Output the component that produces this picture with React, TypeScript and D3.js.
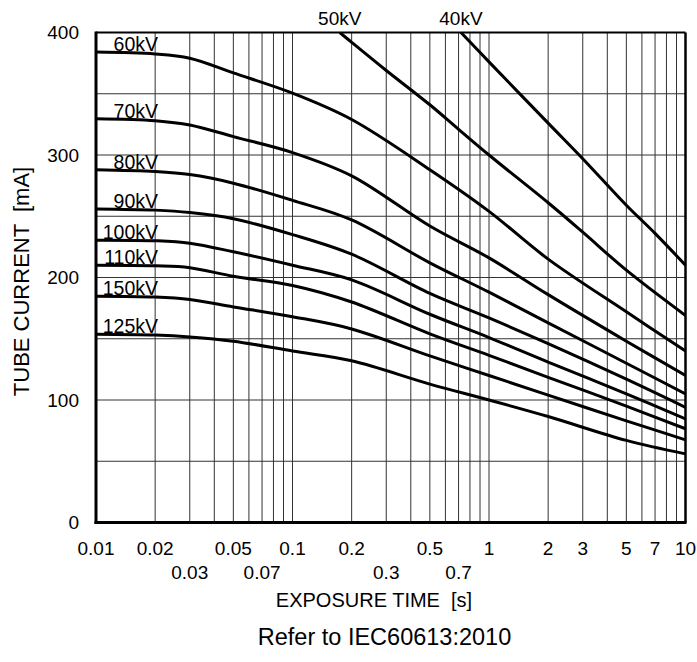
import React from "react";
import * as d3 from "d3";

const W = 697;
const H = 662;

// common exposure-time grid (s)
const TIMES = [0.01, 0.02, 0.03, 0.05, 0.1, 0.2, 0.5, 1, 2, 5, 10];

const KV60 = [384, 382.5, 379, 367, 350.5, 329, 288, 254, 215, 172, 140];
const KV70 = [329.6, 328, 324.5, 315, 302, 283, 242, 216, 186, 148, 120];
const KV80 = [288, 286.5, 284, 277, 263, 247, 212, 188, 163, 130, 105];
const KV90 = [256, 255, 253, 248, 235, 219, 187, 167, 146, 117, 94];
const KV100 = [230.5, 230, 228, 221, 210, 198, 170, 151, 131, 105, 84.5];
const KV110 = [210, 209.5, 208, 201, 193.5, 180, 154, 136.5, 118.5, 95, 76.5];
const KV150 = [184.7, 184, 182, 176, 168, 158, 136, 120, 104, 83, 67.5];
const KV125 = [153.7, 153, 151.5, 148, 140, 132, 113, 100, 86.5, 67, 56];

const TIMES_50 = [0.174, 0.2, 0.3, 0.5, 0.7, 1, 2, 3, 5, 10];
const KV50 = [400, 392, 369, 341, 321, 300, 261, 237, 206, 169];
const TIMES_40 = [0.72, 1, 2, 3, 5, 7, 10];
const KV40 = [400, 376, 326, 297, 259, 236, 210];

const LEFT_LABELS = ["60kV", "70kV", "80kV", "90kV", "100kV", "110kV", "150kV", "125kV"];
const LEFT_SERIES = [KV60, KV70, KV80, KV90, KV100, KV110, KV150, KV125];
const TOP_LABELS = ["50kV", "40kV"];

const X_TICKS_ROW1 = [0.01, 0.02, 0.05, 0.1, 0.2, 0.5, 1, 2, 3, 5, 7, 10];
const X_TICKS_ROW1_TEXT = ["0.01", "0.02", "0.05", "0.1", "0.2", "0.5", "1", "2", "3", "5", "7", "10"];
const X_TICKS_ROW2 = [0.03, 0.07, 0.3, 0.7];
const X_TICKS_ROW2_TEXT = ["0.03", "0.07", "0.3", "0.7"];
const Y_TICKS = [0, 100, 200, 300, 400];
const Y_GRID = [50, 100, 150, 200, 250, 300, 350];

const PL = 96, PR = 685.5, PT = 32.5, PB = 522.5;

export default function App() {
  const x = d3.scaleLog().domain([0.01, 10]).range([PL, PR]);
  const y = d3.scaleLinear().domain([0, 400]).range([PB, PT]);
  const line = d3
    .line<[number, number]>()
    .x((d) => x(d[0]))
    .y((d) => y(d[1]))
    .curve(d3.curveCatmullRom.alpha(0.5));

  const vGrid: number[] = [];
  [0.01, 0.1, 1].forEach((dec) => {
    for (let k = 2; k <= 9; k++) vGrid.push(dec * k);
  });
  [0.1, 1].forEach((v) => vGrid.push(v));

  const series: { pts: [number, number][] }[] = [];
  LEFT_SERIES.forEach((vals) =>
    series.push({ pts: TIMES.map((t, i) => [t, vals[i]] as [number, number]) })
  );
  series.push({ pts: TIMES_50.map((t, i) => [t, KV50[i]] as [number, number]) });
  series.push({ pts: TIMES_40.map((t, i) => [t, KV40[i]] as [number, number]) });

  const font = "'Liberation Sans', Arial, sans-serif";

  return (
    <svg
      width={W}
      height={H}
      style={{ position: "absolute", left: 0, top: 0, background: "#fff" }}
      fontFamily={font}
    >
      <defs>
        <clipPath id="plot">
          <rect x={PL} y={PT} width={PR - PL} height={PB - PT} />
        </clipPath>
      </defs>
      <rect x={0} y={0} width={W} height={H} fill="#fff" />
      {/* grid */}
      {vGrid.map((v, i) => (
        <line key={"vg" + i} x1={x(v)} x2={x(v)} y1={PT} y2={PB} stroke="#333" strokeWidth={1} />
      ))}
      {Y_GRID.map((v, i) => (
        <line key={"hg" + i} x1={PL} x2={PR} y1={y(v)} y2={y(v)} stroke="#333" strokeWidth={1} />
      ))}
      {/* curves */}
      <g clipPath="url(#plot)">
        {series.map((s, i) => (
          <path key={"s" + i} d={line(s.pts) || ""} fill="none" stroke="#000" strokeWidth={3} />
        ))}
      </g>
      {/* frame */}
      <line x1={PL} x2={PR} y1={PT} y2={PT} stroke="#000" strokeWidth={2} />
      <line x1={PR} x2={PR} y1={PT} y2={PB} stroke="#000" strokeWidth={2.5} />
      <line x1={PL} x2={PL} y1={PT - 1} y2={PB + 1.5} stroke="#000" strokeWidth={3} />
      <line x1={PL - 1.5} x2={PR + 1} y1={PB} y2={PB} stroke="#000" strokeWidth={3} />
      {/* curve labels */}
      {LEFT_LABELS.map((lab, i) => (
        <text key={"ll" + i} x={158} y={y(LEFT_SERIES[i][0]) - 1} textAnchor="end" fontSize={19.5}>
          {lab}
        </text>
      ))}
      <text x={x(TIMES_50[0])} y={25} textAnchor="middle" fontSize={19}>
        {TOP_LABELS[0]}
      </text>
      <text x={x(TIMES_40[0])} y={25} textAnchor="middle" fontSize={19}>
        {TOP_LABELS[1]}
      </text>
      {/* y ticks */}
      {Y_TICKS.map((v, i) => (
        <text key={"yt" + i} x={79} y={y(v)} dy="0.35em" textAnchor="end" fontSize={19}>
          {v}
        </text>
      ))}
      {/* x ticks */}
      {X_TICKS_ROW1.map((v, i) => (
        <text key={"xt1" + i} x={x(v)} y={555} textAnchor="middle" fontSize={19}>
          {X_TICKS_ROW1_TEXT[i]}
        </text>
      ))}
      {X_TICKS_ROW2.map((v, i) => (
        <text key={"xt2" + i} x={x(v)} y={579} textAnchor="middle" fontSize={19}>
          {X_TICKS_ROW2_TEXT[i]}
        </text>
      ))}
      {/* axis titles */}
      <text x={374} y={607} textAnchor="middle" fontSize={20} style={{ whiteSpace: "pre" }}>
        {"EXPOSURE TIME  [s]"}
      </text>
      <text
        transform={`translate(29,${(PT + PB) / 2 + 4}) rotate(-90)`}
        textAnchor="middle"
        fontSize={22}
        style={{ whiteSpace: "pre" }}
      >
        {"TUBE CURRENT  [mA]"}
      </text>
      <text x={384.5} y={645} textAnchor="middle" fontSize={23.5}>
        {"Refer to IEC60613:2010"}
      </text>
    </svg>
  );
}
